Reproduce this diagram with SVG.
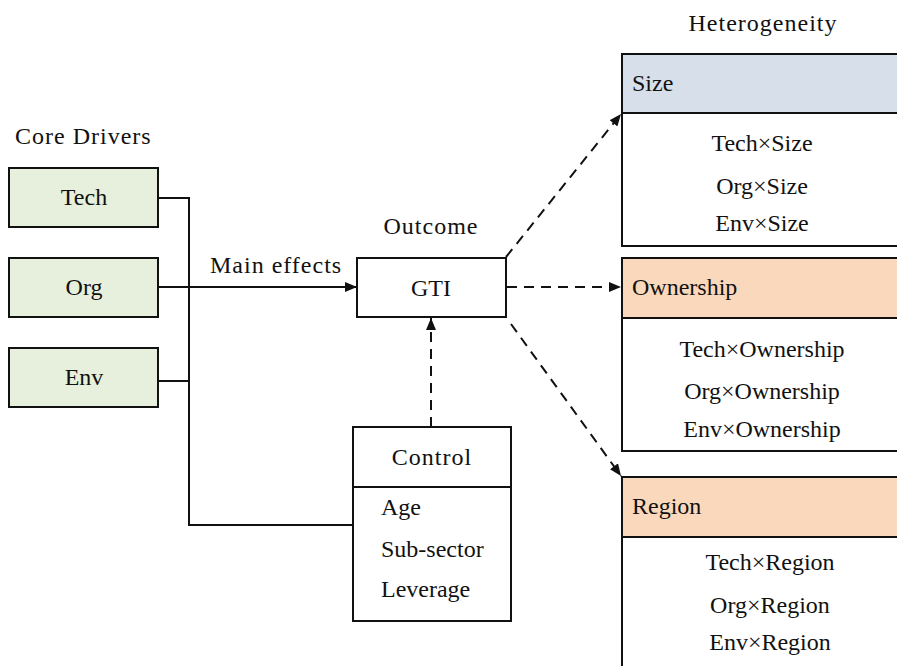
<svg xmlns="http://www.w3.org/2000/svg" width="897" height="666" viewBox="0 0 897 666">
  <style>
    text { font-family: "Liberation Serif", "Times New Roman", serif; font-size: 24px; fill: #111; }
    .c { text-anchor: middle; }
    .sp { letter-spacing: 1px; }
    .box { stroke: #111; stroke-width: 2; }
    .drv { fill: #e6f0dc; }
    .blue { fill: #d6dfea; }
    .peach { fill: #fad8bb; }
    .white { fill: #fff; }
    .ln { fill: none; stroke: #111; stroke-width: 2; }
    .dash { fill: none; stroke: #111; stroke-width: 2; stroke-dasharray: 10 7; }
  </style>
  <defs>
    <marker id="arrow" viewBox="0 0 12 10" refX="12" refY="5" markerWidth="12" markerHeight="10" markerUnits="userSpaceOnUse" orient="auto">
      <path d="M0,0 L12,5 L0,10 Z" fill="#111"/>
    </marker>
  </defs>
  <rect width="897" height="666" fill="#fff"/>

  <!-- section titles -->
  <text x="763" y="31" class="c sp">Heterogeneity</text>
  <text x="15" y="144" class="sp">Core Drivers</text>
  <text x="431" y="234" class="c sp">Outcome</text>
  <text x="210" y="273" class="sp">Main effects</text>

  <!-- connectors -->
  <g id="connectors">
    <path class="ln" d="M158,198 H189 V525 H353"/>
    <path class="ln" d="M158,381 H189"/>
    <path class="ln" d="M158,287 H357" marker-end="url(#arrow)"/>
    <path class="dash" d="M431,427 V318" marker-end="url(#arrow)"/>
    <path class="dash" d="M506,257 L621,114" marker-end="url(#arrow)"/>
    <path class="dash" d="M507,287 H621" marker-end="url(#arrow)"/>
    <path class="dash" d="M511,324 L621,476" marker-end="url(#arrow)"/>
  </g>

  <!-- core drivers -->
  <g id="tech">
    <rect class="box drv" x="9" y="168" width="149" height="59"/>
    <text x="84" y="205" class="c">Tech</text>
  </g>
  <g id="org">
    <rect class="box drv" x="9" y="258" width="149" height="59"/>
    <text x="84" y="295" class="c">Org</text>
  </g>
  <g id="env">
    <rect class="box drv" x="9" y="348" width="149" height="59"/>
    <text x="84" y="385" class="c">Env</text>
  </g>

  <!-- outcome -->
  <g id="gti">
    <rect class="box white" x="357" y="258" width="149" height="59"/>
    <text x="431" y="296" class="c">GTI</text>
  </g>

  <!-- control variables -->
  <g id="control">
    <rect class="box white" x="353" y="427" width="158" height="194"/>
    <line class="ln" x1="353" y1="487" x2="511" y2="487"/>
    <text x="432" y="465" class="c sp">Control</text>
    <text x="381" y="515">Age</text>
    <text x="381" y="557">Sub-sector</text>
    <text x="381" y="597">Leverage</text>
  </g>

  <!-- heterogeneity panels -->
  <g id="size">
    <rect class="box blue" x="622" y="54" width="290" height="59"/>
    <rect class="box white" x="622" y="113" width="290" height="133"/>
    <text x="632" y="91">Size</text>
    <text x="762" y="151" class="c">Tech×Size</text>
    <text x="762" y="194" class="c">Org×Size</text>
    <text x="762" y="231" class="c">Env×Size</text>
  </g>
  <g id="ownership">
    <rect class="box peach" x="622" y="258" width="290" height="60"/>
    <rect class="box white" x="622" y="318" width="290" height="133"/>
    <text x="632" y="295">Ownership</text>
    <text x="762" y="357" class="c">Tech×Ownership</text>
    <text x="762" y="399" class="c">Org×Ownership</text>
    <text x="762" y="437" class="c">Env×Ownership</text>
  </g>
  <g id="region">
    <rect class="box peach" x="622" y="477" width="290" height="60"/>
    <rect class="box white" x="622" y="537" width="290" height="140"/>
    <text x="632" y="514">Region</text>
    <text x="770" y="570" class="c">Tech×Region</text>
    <text x="770" y="613" class="c">Org×Region</text>
    <text x="770" y="650" class="c">Env×Region</text>
  </g>
</svg>
